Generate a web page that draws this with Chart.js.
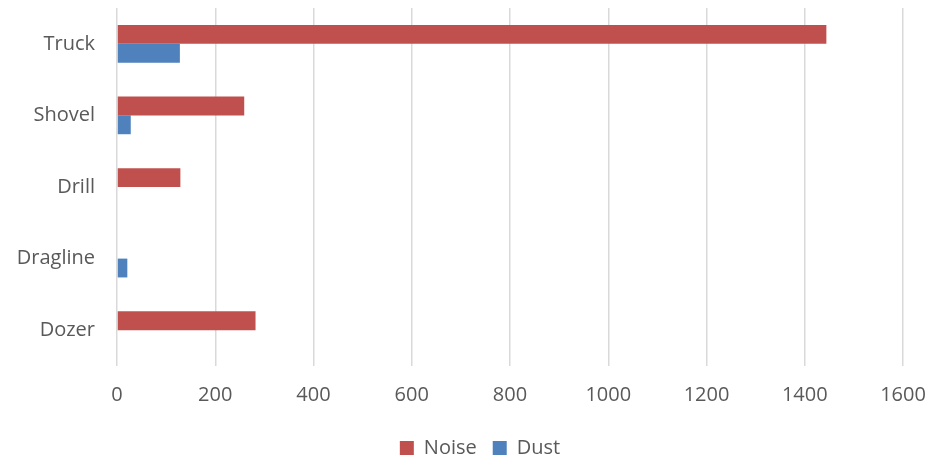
<!DOCTYPE html>
<html>
<head>
<meta charset="utf-8">
<script src="https://cdn.jsdelivr.net/npm/chart.js@4"></script>
<style>
  html, body { margin: 0; padding: 0; background: #fff; }
  #wrap { width: 930px; height: 459px; }
</style>
</head>
<body>
<div id="wrap"><canvas id="myChart" width="930" height="459"></canvas></div>
<script>
// Data
const categories = ['Truck', 'Shovel', 'Drill', 'Dragline', 'Dozer'];
const noiseValues = [1444, 259, 129, 0, 282];
const dustValues = [128, 28, 0, 21, 0];
const xTicks = [0, 200, 400, 600, 800, 1000, 1200, 1400, 1600];

const textColor = '#595959';
const fontFamily = "'Open Sans', sans-serif";

// Legend sits a bit right of the canvas centre in the original
const legendShift = {
    id: 'legendShift',
    afterLayout(chart) {
        chart.legend.left += 57;
    }
};

const ctx = document.getElementById('myChart').getContext('2d');

const myChart = new Chart(ctx, {
    type: 'bar',
    data: {
        labels: categories,
        datasets: [{
            label: 'Noise',
            data: noiseValues,
            backgroundColor: '#C0504D',
            borderWidth: 0
        }, {
            label: 'Dust',
            data: dustValues,
            backgroundColor: '#4F81BD',
            borderWidth: 0
        }]
    },
    options: {
        indexAxis: 'y',
        responsive: false,
        animation: false,
        devicePixelRatio: 1,
        datasets: {
            bar: { categoryPercentage: 0.526, barPercentage: 1.0 }
        },
        layout: {
            padding: { left: 0, right: 27, top: 8, bottom: -9 }
        },
        scales: {
            x: {
                min: 0,
                max: 1600,
                afterBuildTicks: (scale) => {
                    scale.ticks = xTicks.map(v => ({ value: v }));
                },
                grid: { color: '#d9d9d9', lineWidth: 1.5, drawTicks: false },
                border: { display: false },
                ticks: {
                    color: textColor,
                    font: { family: fontFamily, size: 20 },
                    padding: 17,
                    callback: (v) => String(v)
                },
                afterFit: (scale) => {
                    scale.height = 56;
                    scale.paddingLeft = 0;
                    scale.paddingRight = 0;
                }
            },
            y: {
                grid: { display: false },
                border: { display: false },
                ticks: {
                    color: textColor,
                    font: { family: fontFamily, size: 20 },
                    padding: 14
                },
                afterFit: (scale) => {
                    scale.width = 117;
                    scale.paddingTop = 0;
                    scale.paddingBottom = 0;
                }
            }
        },
        plugins: {
            legend: {
                position: 'bottom',
                labels: {
                    color: textColor,
                    font: { family: fontFamily, size: 20 },
                    boxWidth: 14,
                    boxHeight: 14,
                    padding: 16
                }
            },
            tooltip: { enabled: false }
        }
    },
    plugins: [legendShift]
});
</script>
</body>
</html>
